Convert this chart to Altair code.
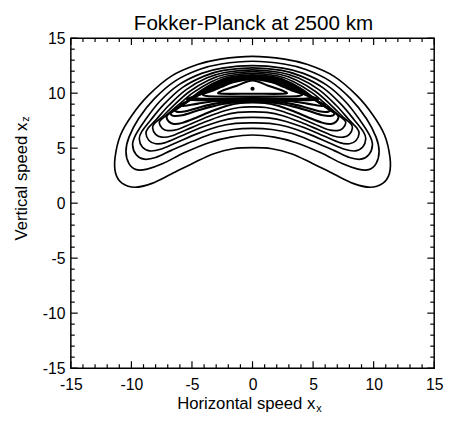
import altair as alt
import pandas as pd

# ---------------- data ----------------
title_text = "Fokker-Planck at 2500 km"
x_title = "Horizontal speed x"
x_sub = "x"
y_title = "Vertical speed x"
y_sub = "z"

tick_values = list(range(-15, 16))
major_ticks = [-15, -10, -5, 0, 5, 10, 15]
minor_ticks = [v for v in tick_values if v % 5 != 0]

# contour lines: left half (top centre -> left side -> bottom centre)
c1 = [(0, 13.35), (-2.65, 13.1), (-4.55, 12.6), (-6.7, 11.55), (-8.6, 9.8), (-9.95, 8.0),
      (-10.9, 6.2), (-11.35, 4.15), (-11.3, 2.7), (-10.75, 1.8), (-9.7, 1.45), (-8.3, 1.8),
      (-6.7, 2.65), (-4.8, 3.7), (-3.2, 4.5), (-1.6, 4.95), (0, 5.05)]
c2 = [(0, 12.9), (-2.6, 12.65), (-4.4, 12.15), (-6.4, 11.1), (-8.1, 9.5), (-9.4, 7.7),
      (-10.2, 6.0), (-10.45, 4.7), (-10.2, 3.6), (-9.6, 3.05), (-8.7, 3.1), (-7.4, 3.6),
      (-5.6, 4.6), (-3.6, 5.5), (-1.8, 6.0), (0, 6.2)]
c3 = [(0, 12.5), (-2.5, 12.28), (-4.2, 11.8), (-6.1, 10.75), (-7.7, 9.2), (-8.9, 7.5),
      (-9.65, 6.2), (-9.9, 5.3), (-9.6, 4.4), (-8.95, 4.0), (-8.0, 4.15), (-6.7, 4.8),
      (-5.0, 5.6), (-3.2, 6.35), (-1.6, 6.7), (0, 6.8)]
c4 = [(0, 12.3), (-2.4, 12.07), (-4.0, 11.55), (-5.8, 10.5), (-7.3, 9.0), (-8.45, 7.5),
      (-9.15, 6.5), (-9.35, 5.85), (-9.1, 5.1), (-8.5, 4.75), (-7.6, 4.9), (-6.3, 5.5),
      (-4.6, 6.3), (-2.9, 6.95), (-1.4, 7.25), (0, 7.3)]
c5 = [(0, 12.12), (-2.3, 11.88), (-3.8, 11.37), (-5.5, 10.3), (-6.9, 8.9), (-7.95, 7.6),
      (-8.6, 6.85), (-8.8, 6.35), (-8.55, 5.7), (-8.0, 5.4), (-7.2, 5.5), (-5.9, 6.1),
      (-4.3, 6.85), (-2.7, 7.45), (-1.3, 7.75), (0, 7.8)]
c6 = [(0, 11.96), (-2.2, 11.72), (-3.6, 11.2), (-5.2, 10.15), (-6.5, 8.9), (-7.5, 7.8),
      (-8.1, 7.25), (-8.25, 6.85), (-8.0, 6.25), (-7.5, 6.0), (-6.7, 6.1), (-5.5, 6.65),
      (-4.0, 7.35), (-2.5, 7.95), (-1.2, 8.25), (0, 8.3)]
c7 = [(0, 11.8), (-2.1, 11.56), (-3.4, 11.05), (-4.9, 10.05), (-6.1, 8.95), (-7.0, 8.1),
      (-7.55, 7.6), (-7.7, 7.3), (-7.45, 6.8), (-7.0, 6.6), (-6.2, 6.7), (-5.1, 7.2),
      (-3.7, 7.85), (-2.3, 8.4), (-1.1, 8.7), (0, 8.75)]
c8 = [(0, 11.66), (-2.0, 11.42), (-3.2, 10.9), (-4.6, 9.95), (-5.7, 9.0), (-6.5, 8.4),
      (-7.0, 8.05), (-7.1, 7.8), (-6.9, 7.4), (-6.5, 7.2), (-5.8, 7.3), (-4.7, 7.75),
      (-3.4, 8.35), (-2.1, 8.85), (-1.0, 9.1), (0, 9.15)]
c9a = [(0, 11.57), (-1.95, 11.33), (-3.15, 10.85), (-4.45, 9.97), (-5.55, 9.1), (-6.3, 8.55),
       (-6.75, 8.2), (-6.55, 7.95), (-5.8, 8.0), (-4.6, 8.4), (-3.3, 8.8), (-1.9, 9.1),
       (0, 9.22)]
c9 = [(0, 11.5), (-1.9, 11.26), (-3.1, 10.8), (-4.3, 9.95), (-5.4, 9.2), (-6.1, 8.75),
      (-6.4, 8.5), (-6.2, 8.3), (-5.5, 8.35), (-4.4, 8.7), (-3.1, 9.05), (-1.7, 9.25),
      (0, 9.3)]
c10a = [(0, 11.44), (-1.85, 11.2), (-3.0, 10.75), (-4.1, 10.05), (-5.0, 9.5), (-5.8, 9.05),
        (-5.95, 8.9), (-5.6, 8.85), (-4.5, 9.05), (-3.0, 9.28), (-1.5, 9.35), (0, 9.36)]
c10 = [(0, 11.38), (-1.8, 11.15), (-2.9, 10.7), (-3.9, 10.1), (-4.8, 9.7), (-5.4, 9.5),
       (-5.1, 9.38), (-4.0, 9.37), (-2.5, 9.38), (0, 9.42)]
c11a = [(0, 11.33), (-1.7, 11.07), (-2.75, 10.62), (-3.7, 10.15), (-4.5, 9.8), (-4.8, 9.65),
        (-4.5, 9.52), (-3.3, 9.5), (0, 9.55)]
c11 = [(0, 11.28), (-1.6, 11.0), (-2.6, 10.55), (-3.5, 10.15), (-4.1, 9.92), (-3.8, 9.75),
       (-2.6, 9.7), (0, 9.7)]
c12 = [(0, 11.15), (-1.3, 10.68), (-2.7, 10.12), (-2.5, 9.95), (0, 9.95)]
contours = [c1, c2, c3, c4, c5, c6, c7, c8, c9a, c9, c10a, c10, c11a, c11, c12]
inner_from = 7  # contours from here on sit in the dense (dark) band

peak_x = [0.0]
peak_y = [10.4]

# ---------------- tables ----------------
rows = []
for cid, half in enumerate(contours):
    loop = half + [(-x, y) for (x, y) in reversed(half[1:-1])]
    for i, (x, y) in enumerate(loop):
        rows.append({"cid": cid, "i": i, "x": x, "y": y})
df = pd.DataFrame(rows)
outer_df = df[df.cid < inner_from]
inner_df = df[df.cid >= inner_from]
peak = pd.DataFrame({"x": peak_x, "y": peak_y})
maj = pd.DataFrame({"v": major_ticks})
mnr = pd.DataFrame({"v": minor_ticks})

W, H = 370, 336
FONT = "Liberation Sans"
xs = alt.Scale(domain=[-15, 15], nice=False, zero=False)
ys = alt.Scale(domain=[-15, 15], nice=False, zero=False)

lab = "'' + datum.value"
xaxis = alt.Axis(values=major_ticks, labelFontSize=16, labelFont=FONT, labelColor="black",
                 ticks=False, tickSize=0, domain=False, grid=False, title=None,
                 labelPadding=9, labelFlush=False, labelExpr=lab)
yaxis = alt.Axis(values=major_ticks, labelFontSize=16, labelFont=FONT, labelColor="black",
                 ticks=False, tickSize=0, domain=False, grid=False, title=None,
                 labelPadding=6, labelFlush=False, labelExpr=lab)


def X(field):
    return alt.X(field, type="quantitative", scale=xs, axis=xaxis)


def Y(field):
    return alt.Y(field, type="quantitative", scale=ys, axis=yaxis)


outer = alt.Chart(outer_df).mark_line(interpolate="cardinal-closed", color="black",
                                      strokeWidth=1.7).encode(
    x=X("x"), y=Y("y"), detail="cid:N", order="i:Q")
inner = alt.Chart(inner_df).mark_line(interpolate="cardinal-closed", color="black",
                                      strokeWidth=2.1).encode(
    x=X("x"), y=Y("y"), detail="cid:N", order="i:Q")

dot = alt.Chart(peak).mark_point(filled=True, color="black", size=18, opacity=1).encode(
    x=X("x"), y=Y("y"))


def xticks(data, length):
    bottom = alt.Chart(data).mark_rule(color="black", strokeWidth=1.2).encode(
        x=X("v"), y=alt.value(H), y2=alt.value(H - length))
    top = alt.Chart(data).mark_rule(color="black", strokeWidth=1.2).encode(
        x=X("v"), y=alt.value(0), y2=alt.value(length))
    return [bottom, top]


def yticks(data, length):
    left = alt.Chart(data).mark_rule(color="black", strokeWidth=1.2).encode(
        y=Y("v"), x=alt.value(0), x2=alt.value(length))
    right = alt.Chart(data).mark_rule(color="black", strokeWidth=1.2).encode(
        y=Y("v"), x=alt.value(W), x2=alt.value(W - length))
    return [left, right]


def label(text, x, y, size, align="center", baseline="alphabetic", angle=0, dx=0, dy=0):
    return alt.Chart(pd.DataFrame({"t": [text]})).mark_text(
        font=FONT, fontSize=size, align=align, baseline=baseline, angle=angle,
        dx=dx, dy=dy, color="black").encode(text="t:N", x=alt.value(x), y=alt.value(y))


texts = [
    label(title_text, 186, -8, 21),
    label(x_title, 249, 378, 17, align="right"),
    label(x_sub, 249, 378, 11, align="left", dx=1, dy=3),
    label(y_title, -50, 86, 17, align="right", baseline="middle", angle=270),
    label(y_sub, -50, 86, 11, align="left", baseline="middle", angle=270, dx=1, dy=4),
]

chart = alt.layer(
    outer, inner, dot,
    *xticks(maj, 7), *xticks(mnr, 4), *yticks(maj, 7), *yticks(mnr, 4),
    *texts,
).properties(
    width=W, height=H,
    padding={"left": 64, "top": 27, "right": 11, "bottom": 45},
    autosize=alt.AutoSizeParams(type="none"),
    background="white",
).configure_view(stroke="black", strokeWidth=1.5)

chart.save("out.html", embed_options={"renderer": "svg", "actions": False})
